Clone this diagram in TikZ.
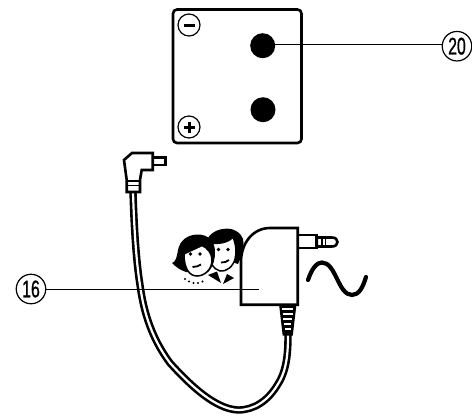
\documentclass[tikz,border=0pt]{standalone}
\usepackage{fontspec}
\setmainfont{Liberation Sans}
\begin{document}
\begin{tikzpicture}[x=1pt,y=-1pt,
  outline/.style={draw=black,line width=2.6pt,line join=miter},
  thick line/.style={draw=black,line width=2.6pt},
  lead/.style={draw=black,line width=1pt},
  callout/.style={circle,draw=black,line width=1.2pt,minimum size=29.5pt,inner sep=0pt,font=\addfontfeature{FakeBold=1}\fontsize{24}{24}\selectfont},
  sign/.style={circle,draw=black,line width=1.2pt,minimum size=22pt,inner sep=0pt},
  contact/.style={circle,fill=black,minimum size=25pt,inner sep=0pt},
  stripe/.style={draw=black,line width=1.8pt},
  facefill/.style={fill=white,draw=black,line width=1.5pt},
  hair/.style={fill=black,draw=none},
  feature/.style={fill=black,draw=none}]
\useasboundingbox (0,0) rectangle (472,416);
\fill[white] (0,0) rectangle (472,416);
% panel
\draw[thick line,rounded corners=4pt] (173,9.5) rectangle (301.5,143);
\node[sign] (minus) at (189,25) {};
\node[sign] (plus) at (189,127) {};
\fill (183.5,23.5) rectangle (194.5,26.5);
\fill (183.5,125.5) rectangle (194.5,128.5);
\fill (187.5,121.5) rectangle (190.5,132.5);
\node[contact] (dotA) at (262.7,45.7) {};
\node[contact] (dotB) at (263,109.7) {};
\node[callout] (c20) at (457,46.2) {\scalebox{.66}[1]{20}};
\draw[lead] (c20.172) -- (c20.172 -| dotA);
% cable
\coordinate (cabA) at (288,335);
\coordinate (cabB) at (133,192);
\def\cablepath{(cabA) .. controls (288,352) and (287,370) .. (278,384) .. controls (268,401) and (254,410) .. (238,410) .. controls (215,409) and (190,385) .. (170,363) .. controls (153,340) and (144,315) .. (140,285) .. controls (136,260) and (134,225) .. (cabB)}
\draw[black,line width=7.4pt] \cablepath;
\draw[white,line width=2.2pt] \cablepath;
% small plug
\draw[outline,fill=white] (152.7,157.7) rectangle (165.5,165);
\draw[outline,fill=white] (124,160) -- (132,153) -- (152.7,153) -- (152.7,170) -- (141.7,170) -- (140,180) -- (140,192) -- (126.7,192) -- (126.7,180) -- cycle;
\draw[stripe] (126.7,181) -- (140,181);
\draw[stripe] (126.7,185.5) -- (140,185.5);
% jack
\draw[outline,fill=white] (316.7,237.5) -- (332,237.5) .. controls (335.5,237.5) and (337.5,239.5) .. (337.5,242) .. controls (337.5,244.5) and (335.5,246.5) .. (332,246.5) -- (316.7,246.5) -- cycle;
\draw[stripe] (322,237.5) -- (322,246.5);
\draw[stripe] (325.5,237.5) -- (325.5,246.5);
\draw[outline,fill=white] (297.7,235) rectangle (316.7,248);
% strain relief
\fill (279,304) -- (296.5,304) -- (292.8,335.5) -- (282.7,335.5) -- cycle;
\foreach \y/\a/\b in {309/280.8/294.6,314/281.4/294,319/282/293.4,324/282.6/292.8,329/283.4/292.2}
  \draw[white,line width=1.6pt] (\a+1.4,\y) -- (\b-1.4,\y);
% adapter body
\draw[outline,fill=white] (241,304.7) -- (241,262) .. controls (241,243) and (253,228) .. (270,228) -- (297.7,228) -- (297.7,304.7) -- cycle;
% wave
\draw[black,line width=4.2pt,line cap=round] (308,280) .. controls (312,268) and (317,262.5) .. (322,262.5) .. controls (336,262.5) and (338,295) .. (352,295) .. controls (359,295) and (363,287) .. (366,277);
% man
\fill[hair] (208,238) .. controls (212,231) and (222,227.5) .. (231,229) .. controls (239,231) and (244,237) .. (243.5,243) .. controls (243,251) and (241,258) .. (238,264) -- (232,262) -- (210,255) -- cycle;
\draw[facefill] (211,243) .. controls (218,244) and (228,243) .. (233,237) .. controls (236,245) and (237,252) .. (235,259) .. controls (233,267) and (226,272) .. (220,271) .. controls (213,269) and (209,262) .. (209,254) -- cycle;
\fill[feature] (218.5,249.5) circle (1.8pt) (228,249.5) circle (1.8pt);
\draw[black,line width=1.8pt] (221,262.5) .. controls (224,262.5) and (227,262) .. (229,260);
% collar
\fill[feature] (208,275) -- (217,271.5) -- (221,283) -- cycle;
\fill[feature] (223,284) -- (227,274) -- (234,278) -- cycle;
% woman
\fill[hair] (172,263) .. controls (176,262) and (177,256) .. (178,250) .. controls (180,240) and (188,234.5) .. (198,234.5) .. controls (208,234.5) and (215,241) .. (215,252) .. controls (215,258) and (214,266) .. (208,272) -- (186,272) .. controls (180,270) and (176,267) .. (172,263) -- cycle;
\draw[facefill] (184,254) .. controls (190,251) and (199,247) .. (202,245.5) .. controls (208,248) and (212,254) .. (212,260) .. controls (212,270) and (204,276) .. (197,276) .. controls (189,276) and (184,268) .. (184,254) -- cycle;
\fill[feature] (190.5,254) circle (1.8pt) (200,254) circle (1.8pt);
\draw[black,line width=1.8pt] (192.5,267) .. controls (196,267) and (199,266) .. (201,264.5);
\foreach \x/\y in {185/279,189/281.5,193.5/283,198/283,202.5/281.5}
  \fill[feature] (\x,\y) circle (1.2pt);
% callout 16
\node[callout] (c16) at (31,289) {\scalebox{.66}[1]{16}};
\coordinate (end16) at (259,289.7);
\draw[lead] (c16.east |- end16) -- (end16);
\end{tikzpicture}
\end{document}
